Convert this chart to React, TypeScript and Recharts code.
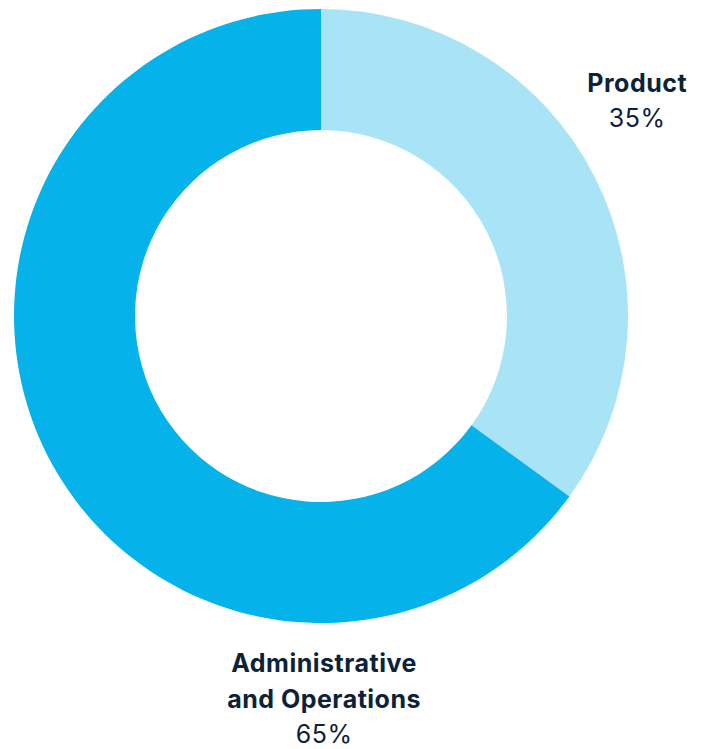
import { Cell, Pie, PieChart } from "recharts";

const categories = ["Product", "Administrative and Operations"];
const shares = [35, 65];
const labelLines = [["Product"], ["Administrative", "and Operations"]];
const sliceColors = ["#A9E3F6", "#05B2EA"];

// label anchor relative to pie centre, in units of outer radius
const labelAnchors = [
  { dx: 1.03, dy: -0.73 },
  { dx: 0.01, dy: 1.16 },
];

const data = categories.map((name, i) => ({ name, value: shares[i] }));
const total = shares.reduce((a, b) => a + b, 0);

const FONT = "Inter, 'Noto Sans', sans-serif";
const TEXT = "#0B2239";
const LINE = 35.5;

function SliceLabel(props: any) {
  const { cx, cy, outerRadius, index, value } = props;
  const anchor = labelAnchors[index];
  const x = cx + anchor.dx * outerRadius;
  const y = cy + anchor.dy * outerRadius;
  const lines = labelLines[index];
  const pct = `${Math.round((value / total) * 100)}%`;
  return (
    <text
      x={x}
      y={y}
      textAnchor="middle"
      fontFamily={FONT}
      fontSize={25}
      letterSpacing={0.5}
      fill={TEXT}
    >
      {lines.map((l, k) => (
        <tspan key={k} x={x} dy={k === 0 ? 0 : LINE} fontWeight={700}>
          {l}
        </tspan>
      ))}
      <tspan x={x} dy={LINE} fontWeight={400}>
        {pct}
      </tspan>
    </text>
  );
}

export default function App() {
  return (
    <div style={{ position: "absolute", left: 0, top: 0, width: 705, height: 749, background: "#fff" }}>
      <PieChart width={705} height={749} margin={{ top: 0, right: 0, bottom: 0, left: 0 }}>
        <Pie
          data={data}
          dataKey="value"
          nameKey="name"
          cx={321}
          cy={316}
          outerRadius={307}
          innerRadius={186}
          startAngle={90}
          endAngle={-270}
          stroke="none"
          label={SliceLabel}
          labelLine={false}
          isAnimationActive={false}
        >
          {data.map((d, i) => (
            <Cell key={d.name} fill={sliceColors[i]} />
          ))}
        </Pie>
      </PieChart>
    </div>
  );
}
